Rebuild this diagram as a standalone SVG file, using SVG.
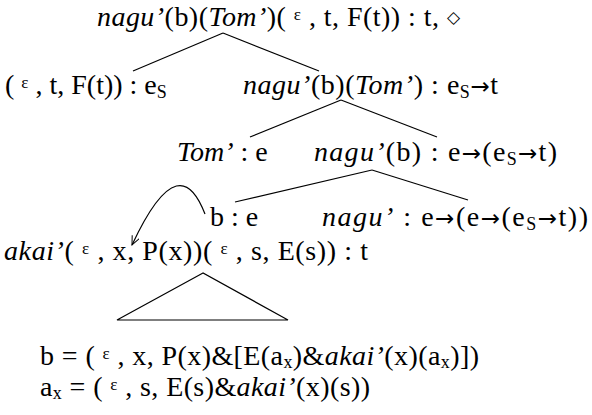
<svg xmlns="http://www.w3.org/2000/svg" width="592" height="415" viewBox="0 0 592 415">
<style>
.i{font-style:italic}
.eps{font-size:17px}
.sub{font-size:18px}
.arr{font-size:23px}
.dia{font-size:17px}
.ln{stroke:#000;stroke-width:1.2;fill:none}
</style>
<defs>
<marker id="ah" markerWidth="10" markerHeight="10" refX="9" refY="4" orient="auto" markerUnits="userSpaceOnUse">
<path d="M0,0 L9,4 L0,8" fill="none" stroke="#000" stroke-width="1"/>
</marker>
</defs>
<g id="connectors">
<line class="ln" x1="223" y1="33" x2="133" y2="71"/>
<line class="ln" x1="223" y1="33" x2="319" y2="71"/>
<line class="ln" x1="341" y1="100" x2="250" y2="137"/>
<line class="ln" x1="341" y1="100" x2="437" y2="137"/>
<line class="ln" x1="372" y1="170" x2="235" y2="202"/>
<line class="ln" x1="372" y1="170" x2="468" y2="200"/>
<path class="ln" d="M205,214 C190,175 168,168 132,245" marker-end="url(#ah)"/>
</g>
<g id="n-root"><text x="97" y="26" font-family="'Liberation Serif'" font-size="28" textLength="363"><tspan class="i">nagu’</tspan>(b)(<tspan class="i">Tom’</tspan>)( <tspan class="eps" dy="-6">ε</tspan><tspan dy="6"> , t, F(t)) : t, </tspan><tspan class="dia" dy="-3" font-family="'DejaVu Sans'">◇</tspan></text></g>
<g id="n-eps"><text x="5" y="94" font-family="'Liberation Serif'" font-size="28">( <tspan class="eps" dy="-6">ε</tspan><tspan dy="6"> , t, F(t)) : e</tspan><tspan class="sub" dy="4">S</tspan></text></g>
<g id="n-nbt"><text x="243" y="94" font-family="'Liberation Serif'" font-size="28" textLength="255"><tspan class="i">nagu’</tspan>(b)(<tspan class="i">Tom’</tspan>) : e<tspan class="sub" dy="4">S</tspan><tspan class="arr" dy="-4" font-family="'DejaVu Sans'">→</tspan>t</text></g>
<g id="n-tom"><text x="177" y="161" font-family="'Liberation Serif'" font-size="28"><tspan class="i">Tom’</tspan> : e</text></g>
<g id="n-nb"><text x="314" y="161" font-family="'Liberation Serif'" font-size="28" textLength="243"><tspan class="i">nagu’</tspan>(b) : e<tspan class="arr" font-family="'DejaVu Sans'">→</tspan>(e<tspan class="sub" dy="4">S</tspan><tspan class="arr" dy="-4" font-family="'DejaVu Sans'">→</tspan>t)</text></g>
<g id="n-b"><text x="210" y="226" font-family="'Liberation Serif'" font-size="28">b : e</text></g>
<g id="n-nagu"><text x="322" y="226" font-family="'Liberation Serif'" font-size="28" textLength="266"><tspan class="i">nagu’</tspan> : e<tspan class="arr" font-family="'DejaVu Sans'">→</tspan>(e<tspan class="arr" font-family="'DejaVu Sans'">→</tspan>(e<tspan class="sub" dy="4">S</tspan><tspan class="arr" dy="-4" font-family="'DejaVu Sans'">→</tspan>t))</text></g>
<g id="n-akai"><text x="4" y="260" font-family="'Liberation Serif'" font-size="28" textLength="364"><tspan class="i">akai’</tspan>( <tspan class="eps" dy="-6">ε</tspan><tspan dy="6"> , x, P(x))( </tspan><tspan class="eps" dy="-6">ε</tspan><tspan dy="6"> , s, E(s)) : t</tspan></text></g>
<g id="n-tri"><polygon class="ln" points="203,273 117,320 288,320"/></g>
<g id="n-def-b"><text x="40" y="365" font-family="'Liberation Serif'" font-size="28" textLength="439">b = ( <tspan class="eps" dy="-6">ε</tspan><tspan dy="6"> , x, P(x)&amp;[E(a</tspan><tspan class="sub" dy="3">x</tspan><tspan dy="-3">)&amp;</tspan><tspan class="i">akai’</tspan>(x)(a<tspan class="sub" dy="3">x</tspan><tspan dy="-3">)])</tspan></text></g>
<g id="n-def-a"><text x="40" y="396" font-family="'Liberation Serif'" font-size="28" textLength="330">a<tspan class="sub" dy="3">x</tspan><tspan dy="-3"> = ( </tspan><tspan class="eps" dy="-6">ε</tspan><tspan dy="6"> , s, E(s)&amp;</tspan><tspan class="i">akai’</tspan>(x)(s))</text></g>
</svg>
